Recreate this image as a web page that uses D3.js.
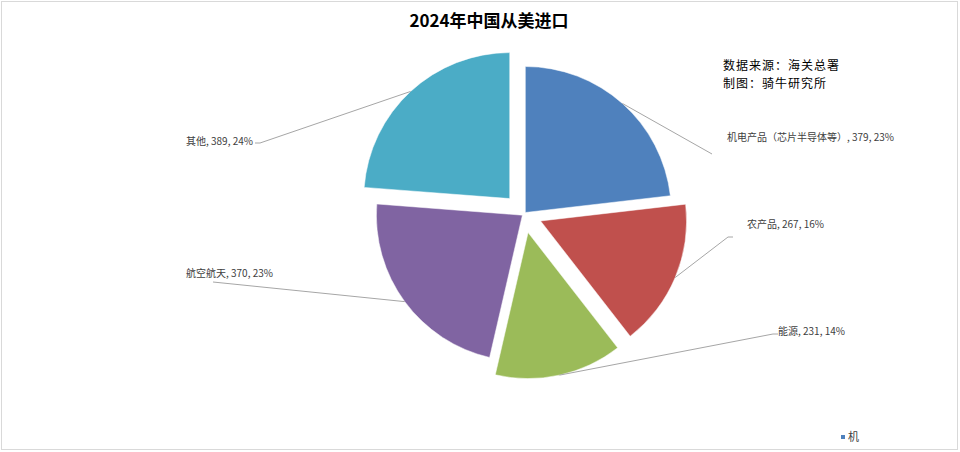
<!DOCTYPE html>
<html>
<head>
<meta charset="utf-8">
<script src="https://cdn.jsdelivr.net/npm/d3@7"></script>
<style>
  body { margin: 0; background: #fff; }
  svg { display: block; }
</style>
</head>
<body>
<svg id="chart" width="960" height="452"></svg>
<script>
// data
let categories = ["机电产品（芯片半导体等）", "农产品", "能源", "航空航天", "其他"];
let values = [379, 267, 231, 370, 389];
let percents = ["23%", "16%", "14%", "23%", "24%"];
let legendItems = ["机"];

// style
let colors = ["#4f81bd", "#c0504d", "#9bbb59", "#8064a2", "#4bacc6"];
let explode = [2, 18, 19, 2, 21];
// label anchor [x, y] and leader line end [x, y] plus short tail
let labelPos = [[727, 141], [747, 228], [778, 335], [186, 277], [186, 145]];
let lineEnd = [[712, 154], [728, 237], [773, 334], [213, 282], [260, 143]];
let lineTail = [null, [733, 237], [778, 334], null, [255, 143]];

let width = 960, height = 452;
let cx = 524, cy = 214, radius = 146;

let svg = d3.select("#chart");

// border
svg.append("rect")
    .attr("x", 1.5).attr("y", 1.5)
    .attr("width", width - 4).attr("height", height - 4)
    .style("fill", "none")
    .style("stroke", "#d9d9d9")
    .style("stroke-width", "1px");

svg.append("text")
    .attr("x", 489).attr("y", 27)
    .attr("text-anchor", "middle")
    .style("font-family", "'Noto Sans CJK SC', sans-serif")
    .style("font-size", "17px")
    .style("font-weight", "bold")
    .style("fill", "#000")
    .text("2024年中国从美进口");

let note = svg.append("g")
    .style("font-family", "'Noto Sans CJK SC', sans-serif")
    .style("font-size", "12px")
    .style("letter-spacing", "1px")
    .style("fill", "#000");
note.append("text").attr("x", 723).attr("y", 70).text("数据来源：海关总署");
note.append("text").attr("x", 723).attr("y", 87.5).text("制图：骑牛研究所");

let pie = d3.pie().sort(null).value(function (d) { return d; });
let arcs = pie(values);

let arc = d3.arc().innerRadius(0).outerRadius(radius);

let g = svg.append("g").attr("transform", "translate(" + cx + "," + cy + ")");

function offset(d, i) {
    let mid = (d.startAngle + d.endAngle) / 2;
    return [Math.sin(mid) * explode[i], -Math.cos(mid) * explode[i]];
}

g.selectAll("path")
    .data(arcs)
    .enter().append("path")
    .attr("d", arc)
    .attr("transform", function (d, i) {
        let o = offset(d, i);
        return "translate(" + o[0] + "," + o[1] + ")";
    })
    .style("fill", function (d, i) { return colors[i]; })
    .style("stroke", "#fff")
    .style("stroke-width", "0.5px");

// leader lines
let lines = svg.append("g")
    .style("fill", "none")
    .style("stroke", "#a6a6a6")
    .style("stroke-width", "1px");

lines.selectAll("polyline")
    .data(arcs)
    .enter().append("polyline")
    .attr("points", function (d, i) {
        let mid = (d.startAngle + d.endAngle) / 2;
        let o = offset(d, i);
        let p0 = [cx + o[0] + Math.sin(mid) * radius, cy + o[1] - Math.cos(mid) * radius];
        let pts = [p0, lineEnd[i]];
        if (lineTail[i]) pts.push(lineTail[i]);
        return pts.map(function (p) { return p.join(","); }).join(" ");
    });

// labels
svg.append("g")
    .style("font-family", "'Noto Sans CJK SC', sans-serif")
    .style("font-size", "10px")
    .style("fill", "#404040")
    .selectAll("text")
    .data(arcs)
    .enter().append("text")
    .attr("x", function (d, i) { return labelPos[i][0]; })
    .attr("y", function (d, i) { return labelPos[i][1]; })
    .text(function (d, i) { return categories[i] + ", " + values[i] + ", " + percents[i]; });

// legend
let legend = svg.append("g").attr("transform", "translate(841,437)");
legend.selectAll("rect")
    .data(legendItems)
    .enter().append("rect")
    .attr("x", 0).attr("y", -2)
    .attr("width", 4).attr("height", 4)
    .style("fill", colors[0]);
legend.selectAll("text")
    .data(legendItems)
    .enter().append("text")
    .attr("x", 7).attr("y", 4)
    .style("font-family", "'Noto Sans CJK SC', sans-serif")
    .style("font-size", "11px")
    .style("fill", "#404040")
    .text(function (d) { return d; });
</script>
</body>
</html>
